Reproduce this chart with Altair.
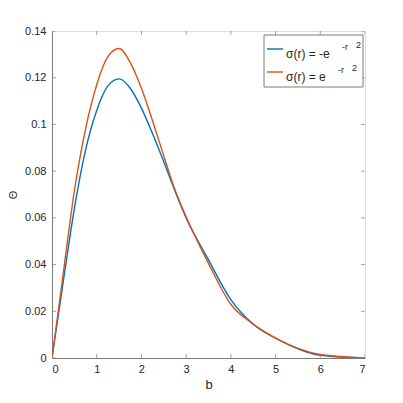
import altair as alt
import pandas as pd

# ---- data ----
b_vals = [0, 0.25, 0.5, 0.75, 1, 1.25, 1.5, 1.75, 2, 2.25, 2.5, 2.75, 3, 3.5, 4, 4.5,
          5, 6, 7]
theta_neg = [0, 0.0325, 0.064, 0.089, 0.106, 0.1165, 0.1195, 0.1155, 0.107, 0.096,
             0.084, 0.0715, 0.060, 0.042, 0.025, 0.0145, 0.0085, 0.0012, 0]
theta_pos = [0, 0.036, 0.0715, 0.098, 0.117, 0.129, 0.1325, 0.1265, 0.1155, 0.1015,
             0.0865, 0.072, 0.0605, 0.0405, 0.023, 0.0145, 0.0085, 0.0015, 0]
series_names = ["σ(r) = -e", "σ(r) = e"]
sup_a = ["-r", "-r"]
sup_b = ["2", "2"]
colors = ["#0072BD", "#D95319"]
x_ticks = [0, 1, 2, 3, 4, 5, 6, 7]
y_ticks = [0, 0.02, 0.04, 0.06, 0.08, 0.1, 0.12, 0.14]

W, H = 313, 327
FONT = "Liberation Sans"
AX = "#262626"
DOM = "#7a7a7a"

df_neg = pd.DataFrame({"b": b_vals, "theta": theta_neg})
df_pos = pd.DataFrame({"b": b_vals, "theta": theta_pos})

xscale = alt.Scale(domain=[0, 7], nice=False, zero=False)
yscale = alt.Scale(domain=[0, 0.14], nice=False, zero=False)

x_axis = alt.Axis(values=x_ticks, title="b", ticks=False, grid=False, labelFont=FONT,
                  labelFontSize=11, labelColor=AX, titleFont=FONT, titleFontSize=13,
                  titleFontWeight="normal", titleColor=AX, domainColor=DOM, labelPadding=5,
                  titlePadding=4)
y_axis = alt.Axis(values=y_ticks, title="Θ", ticks=False, grid=False, format="~g", labelFont=FONT,
                  labelFontSize=11, labelColor=AX, titleFont=FONT, titleFontSize=11,
                  titleFontWeight="normal", titleColor=AX, domainColor=DOM, labelPadding=6,
                  titlePadding=6)

line_neg = alt.Chart(df_neg).mark_line(color=colors[0], strokeWidth=1.4, clip=True,
                                       interpolate="monotone").encode(
    x=alt.X("b:Q", scale=xscale, axis=x_axis),
    y=alt.Y("theta:Q", scale=yscale, axis=y_axis),
)
line_pos = alt.Chart(df_pos).mark_line(color=colors[1], strokeWidth=1.4, clip=True,
                                       interpolate="monotone").encode(
    x=alt.X("b:Q", scale=xscale),
    y=alt.Y("theta:Q", scale=yscale),
)

dx = pd.DataFrame({"b": x_ticks})
dy = pd.DataFrame({"theta": y_ticks})
tick_style = dict(color=DOM, size=8, thickness=1, clip=True)
xt_bot = alt.Chart(dx).mark_tick(**tick_style).encode(x=alt.X("b:Q", scale=xscale), y=alt.value(H))
xt_top = alt.Chart(dx).mark_tick(**tick_style).encode(x=alt.X("b:Q", scale=xscale), y=alt.value(0))
yt_l = alt.Chart(dy).mark_tick(**tick_style).encode(y=alt.Y("theta:Q", scale=yscale), x=alt.value(0))
yt_r = alt.Chart(dy).mark_tick(**tick_style).encode(y=alt.Y("theta:Q", scale=yscale), x=alt.value(W))

# ---- legend box ----
one = pd.DataFrame({"k": [0]})
box = alt.Chart(one).mark_rect(fill="white", stroke=DOM, strokeWidth=1).encode(
    x=alt.value(212), x2=alt.value(311), y=alt.value(4), y2=alt.value(56))

legend_layers = [box]
rows_y = [18, 41]
for i in range(2):
    ly = rows_y[i]
    ldf = pd.DataFrame({"name": [series_names[i]], "sa": [sup_a[i]], "sb": [sup_b[i]]})
    legend_layers.append(alt.Chart(ldf).mark_rule(color=colors[i], strokeWidth=1.4).encode(
        x=alt.value(215), x2=alt.value(231), y=alt.value(ly)))
    legend_layers.append(alt.Chart(ldf).mark_text(align="left", baseline="middle", font=FONT,
                                                  fontSize=12, color=AX).encode(
        x=alt.value(234), y=alt.value(ly + 5), text="name:N"))
    legend_layers.append(alt.Chart(ldf).mark_text(align="left", baseline="middle", font=FONT,
                                                  fontSize=9, color=AX).encode(
        x=alt.value(290 - 4 * i), y=alt.value(ly - 2), text="sa:N"))
    legend_layers.append(alt.Chart(ldf).mark_text(align="left", baseline="middle", font=FONT,
                                                  fontSize=9, color=AX).encode(
        x=alt.value(304 - 4 * i), y=alt.value(ly - 4), text="sb:N"))

chart = alt.layer(line_neg, line_pos, xt_bot, xt_top, yt_l, yt_r, *legend_layers).properties(
    width=W, height=H,
    autosize=alt.AutoSizeParams(type="none"),
    padding={"left": 44, "top": 23, "right": 20, "bottom": 40},
).configure_view(stroke=DOM, strokeWidth=1).configure(background="white")

chart.save("out.html", embed_options={"renderer": "svg", "actions": False})
